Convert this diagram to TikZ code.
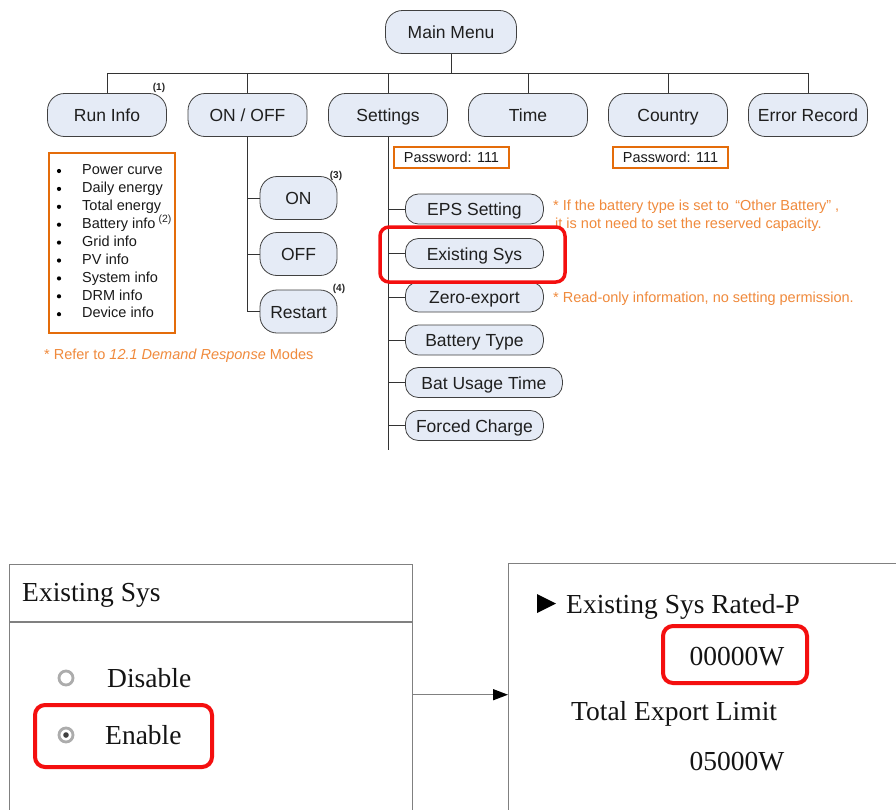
\documentclass[tikz,border=0pt]{standalone}
\usepackage{fontspec}
\setmainfont{Liberation Serif}
\newfontfamily\sansf{Liberation Sans}
\usetikzlibrary{arrows.meta}
\definecolor{boxfill}{HTML}{E5EBF6}
\definecolor{nodeline}{HTML}{404040}
\definecolor{orbox}{HTML}{E46C0A}
\definecolor{ortext}{HTML}{F08A3C}
\definecolor{redhl}{HTML}{F40F0F}
\definecolor{panelgray}{HTML}{808080}
\tikzset{
  menu/.style={draw=nodeline, fill=boxfill, rounded corners=17pt, minimum width=119pt,
    minimum height=43pt, inner sep=0pt, line width=0.8pt, text=black!88,
    text height=14pt, text depth=1pt,
    font=\sansf\fontsize{17.5}{20}\selectfont},
  sub/.style={menu, rounded corners=13pt, minimum width=138pt, minimum height=30pt, anchor=west},
  tree/.style={draw=black!80, line width=0.9pt},
  listitem/.style={anchor=west, inner sep=0pt, text height=10.5pt, text depth=3pt,
    font=\sansf\fontsize{14.5}{16}\selectfont, text=black!90},
  pwbox/.style={draw=orbox, line width=1.4pt, minimum width=115pt, minimum height=21pt, inner sep=0pt,
    font=\sansf\fontsize{14.5}{16}\selectfont, text=black!90},
  note/.style={anchor=west, inner sep=0pt, text=ortext, font=\sansf\fontsize{14.5}{16}\selectfont},
  supnum/.style={inner sep=0pt, font=\sansf\bfseries\fontsize{10}{11}\selectfont, text=black!85},
  hl/.style={draw=redhl, line width=3.5pt, rounded corners=9pt},
  panel/.style={draw=panelgray, line width=1.4pt, inner sep=0pt, anchor=north west},
  lcd/.style={inner sep=0pt, font=\fontsize{27.5}{30}\selectfont, text=black!92},
  radio/.style={draw=gray!65, line width=2.8pt}
}
\begin{document}
\begin{tikzpicture}[x=1pt,y=-1pt]
\useasboundingbox[fill=white] (0,0) rectangle (896,809);

% ---------- top tree ----------
\node[menu, minimum width=131pt] (main) at (451,32) {Main Menu};
\node[menu] (run) at (107,115) {Run Info};
\node[menu] (onoff) at (247.5,115) {ON / OFF};
\node[menu] (settings) at (388,115) {Settings};
\node[menu] (time) at (528,115) {Time};
\node[menu] (country) at (668,115) {Country};
\node[menu] (err) at (808,115) {Error Record};
\coordinate (bus) at (451,73);

\draw[tree] (main.south) -- (bus);
\draw[tree] (run.north |- bus) -- (err.north |- bus);
\foreach \n in {run,onoff,settings,time,country,err}
  \draw[tree] (\n.north |- bus) -- (\n.north);

\node[supnum] (s1) at (159,88) {(1)};

% Run info list
\node[draw=orbox, line width=1.4pt, minimum width=126pt, minimum height=180pt, inner sep=0pt] (runlist) at (112,243) {};
\foreach \t [count=\i] in {Power curve,Daily energy,Total energy,Battery info,Grid info,PV info,System info,DRM info,Device info}{
  \fill[black] (59,{171+(\i-1)*17.9}) circle (2.1pt);
  \node[listitem] (item\i) at (82,{171+(\i-1)*17.9}) {\t};
}
\node[supnum, font=\sansf\fontsize{10.5}{11}\selectfont] (s2) at (165,220) {(2)};
\node[note] (refer) at (44,356) {* Refer to \textit{12.1 Demand Response} Modes};

% ON/OFF branch
\node[menu, minimum width=77pt] (on) at (298.5,198) {ON};
\node[menu, minimum width=77pt] (off) at (298.5,254) {OFF};
\node[menu, minimum width=77pt] (restart) at (298.5,311.5) {Restart};
\draw[tree] (onoff.south) |- (restart.west);
\draw[tree] (onoff.south |- on.west) -- (on.west);
\draw[tree] (onoff.south |- off.west) -- (off.west);
\node[supnum] (s3) at (336,176) {(3)};
\node[supnum] (s4) at (339,289) {(4)};

% Settings branch
\node[pwbox] (pw1) at (451.5,157.5) {Password: 111};
\node[pwbox] (pw2) at (670.5,157.5) {Password: 111};
\coordinate (setend) at (388,450);
\draw[tree] (settings.south) -- (setend);
\node[sub] (eps) at (405,209) {EPS Setting};
\node[sub] (exist) at (405,253.5) {Existing Sys};
\node[sub] (zero) at (405,297) {Zero-export};
\node[sub] (battype) at (405,340) {Battery Type};
\node[sub, minimum width=157pt] (batuse) at (405,382.5) {Bat Usage Time};
\node[sub] (forced) at (405,425.5) {Forced Charge};
\foreach \n in {eps,exist,zero,battype,batuse,forced}
  \draw[tree] (settings.south |- \n.west) -- (\n.west);

\node[note] (note1) at (553,207) {* If the battery type is set to \,“Other Battery”\;,};
\node[note] (note2) at (555,224.5) {it is not need to set the reserved capacity.};
\node[note] (note3) at (553,299) {* Read-only information, no setting permission.};

\draw[hl] (380,227) rectangle (565,282);

% ---------- bottom panels ----------
\node[panel, minimum width=403pt, minimum height=260pt] (lpanel) at (9,564) {};
\node[panel, minimum width=400pt, minimum height=262pt] (rpanel) at (508,563) {};
\coordinate (divl) at (9,622);
\draw[draw=panelgray, line width=1.2pt] (divl) -- (divl -| lpanel.east);
\draw[draw=panelgray, line width=1.5pt, -{Triangle[length=15pt,width=11pt,fill=black,color=black]}] (lpanel.east) -- (rpanel.west);

\node[lcd, anchor=base west] (title) at (22,601) {Existing Sys};
\draw[radio] (66,678) circle (7pt);
\draw[radio] (66,735) circle (7pt);
\fill[black!75] (66,735) circle (2.8pt);
\node[lcd, anchor=base west] (disable) at (107,687) {Disable};
\node[lcd, anchor=base west] (enable) at (105,744) {Enable};
\draw[hl, line width=4pt, rounded corners=10pt] (35,705) rectangle (212,767);

\fill[black] (537,594) -- (556,603.5) -- (537,613) -- cycle;
\node[lcd, anchor=base west] (rated) at (566,613) {Existing Sys Rated-P};
\node[lcd, anchor=base] (val1) at (737,665) {00000W};
\draw[hl, line width=4pt, rounded corners=10pt] (663,626) rectangle (807,683);
\node[lcd, anchor=base west] (limit) at (571,720) {Total Export Limit};
\node[lcd, anchor=base] (val2) at (737,770) {05000W};
\end{tikzpicture}
\end{document}
